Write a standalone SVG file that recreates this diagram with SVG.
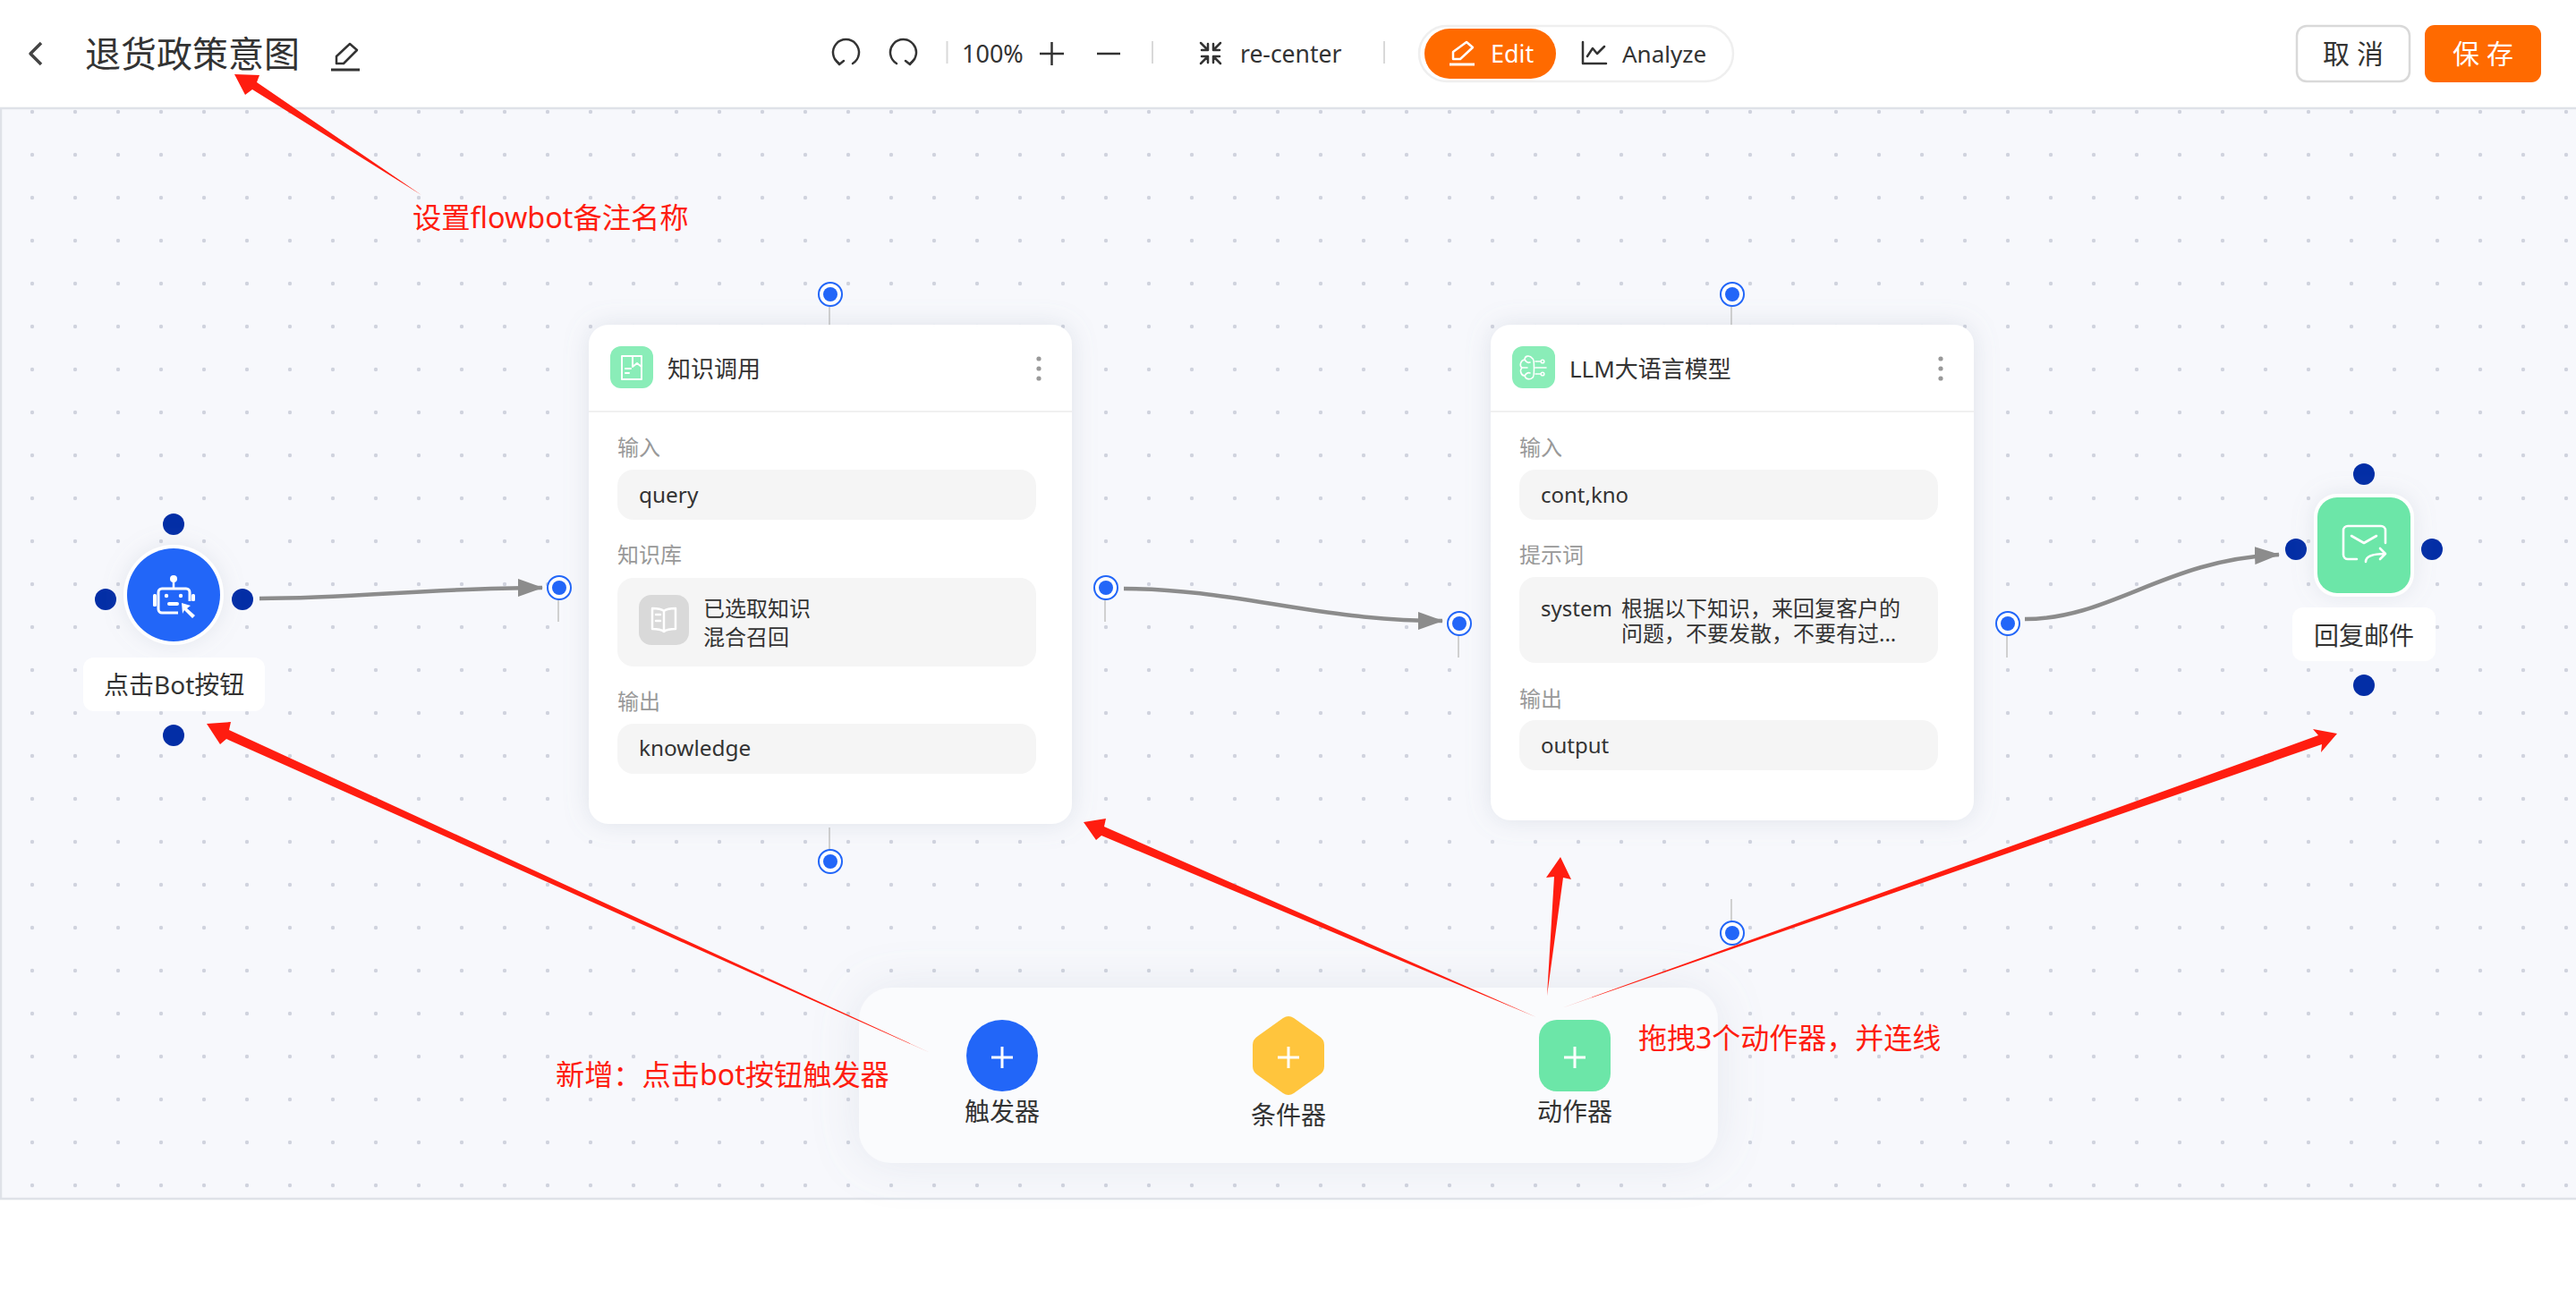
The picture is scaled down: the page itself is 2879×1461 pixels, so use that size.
<svg xmlns="http://www.w3.org/2000/svg" width="2879" height="1461" viewBox="0 0 2879 1461">
<style>
text{font-family:"Noto Sans","Noto Sans CJK SC",sans-serif;fill:#333}
.lab{font-size:24px;fill:#999}
.val{font-size:24px;fill:#333}
.ttl{font-size:26px;fill:#333}
.nodelab{font-size:28px;fill:#333}
.note{font-size:32px;fill:#ff1d10}
.tb{font-size:27px;fill:#333}
.pill{fill:#f5f5f5}
.card{fill:#fff;filter:url(#cardShadow)}
.div{stroke:#f0f0f0;stroke-width:2}
.stem{stroke:#d0d0d0;stroke-width:2;fill:none}
.portO{fill:#fff;stroke:#2266f8;stroke-width:2}
.portI{fill:#2266f8}
.hnd{fill:#032ea6}
.edge{fill:none;stroke:#8c8c8c;stroke-width:4.5}
.wi{fill:none;stroke:#fff;stroke-width:2;stroke-linecap:round;stroke-linejoin:round}
.ti{fill:none;stroke:#333;stroke-width:2.5;stroke-linecap:round;stroke-linejoin:round}
.sep{stroke:#d9d9d9;stroke-width:2}
.mdot{fill:#999}
.red{fill:#ff1d10}
.lbl{fill:#fff}
</style>
<defs>
<pattern id="dots" patternUnits="userSpaceOnUse" x="12" y="101" width="48" height="48"><circle cx="24" cy="24" r="2.2" fill="#d0d3de"/></pattern>
<marker id="arr" markerUnits="userSpaceOnUse" markerWidth="28" markerHeight="20" refX="27" refY="10" orient="auto"><path d="M0 0L28 10L0 20Z" fill="#8c8c8c"/></marker>
<filter id="cardShadow" x="-15%" y="-15%" width="130%" height="130%"><feDropShadow dx="0" dy="0" stdDeviation="14" flood-color="#8a94a8" flood-opacity=".22"/></filter>
<filter id="panelShadow" x="-15%" y="-40%" width="130%" height="180%"><feDropShadow dx="0" dy="0" stdDeviation="26" flood-color="#8a94a8" flood-opacity=".16"/></filter>
<filter id="nodeShadow" x="-40%" y="-40%" width="180%" height="180%"><feDropShadow dx="0" dy="0" stdDeviation="12" flood-color="#8a94a8" flood-opacity=".18"/></filter>
</defs>
<rect width="2879" height="1461" fill="#fff"/>
<g id="canvas">
<rect x="1" y="121" width="2880" height="1219" fill="#f7f8fc" stroke="#dfe2e8" stroke-width="2.5"/>
<rect x="2" y="122" width="2877" height="1217" fill="url(#dots)"/>
</g>
<g id="toolbar">
<path d="M46 48L34 60L46 72" fill="none" stroke="#444" stroke-width="3.5" stroke-linejoin="round"/>
<text x="95" y="75" font-size="40" style="fill:#333">退货政策意图</text>
<path class="ti" d="M376 71V63L391 49L399 56L384 71Z"/><path d="M370 78H402" stroke="#333" stroke-width="3"/>
<g class="ti"><path d="M938 71A14.5 14.5 0 1 1 953 71"/><path d="M933 66L938 72L943 68"/></g>
<g class="ti"><path d="M1002 71A14.5 14.5 0 1 1 1017 71"/><path d="M1022 66L1017 72L1012 68"/></g>
<path class="sep" d="M1058.5 46V71"/>
<text class="tb" x="1075" y="70">100%</text>
<path d="M1162 60H1189M1175.5 47V73" stroke="#333" stroke-width="2.5"/>
<path d="M1226 60H1252" stroke="#333" stroke-width="2.5"/>
<path class="sep" d="M1288 46V71"/>
<g class="ti"><path d="M1342 48L1350 56M1350 49V56H1343"/><path d="M1364 48L1356 56M1356 49V56H1363"/><path d="M1342 71L1350 63M1350 70V63H1343"/><path d="M1364 71L1356 63M1356 70V63H1363"/></g>
<text x="1386" y="70" font-size="26.5" style="fill:#333">re-center</text>
<path class="sep" d="M1547 46V71"/>
<rect x="1586" y="29" width="351" height="62" rx="31" fill="#fff" stroke="#efefef" stroke-width="2.5"/>
<rect x="1592" y="32" width="147" height="56" rx="28" fill="#ff6a00"/>
<path class="wi" d="M1624 66V58L1639 47L1646 53L1632 66Z" style="stroke-width:2.5"/><path d="M1620 72H1648" stroke="#fff" stroke-width="3"/>
<text x="1666" y="70" font-size="27" style="fill:#fff">Edit</text>
<path class="ti" d="M1769 47V71H1795M1774 63L1780 54L1785 60L1793 52"/>
<text x="1813" y="70" font-size="26" style="fill:#333">Analyze</text>
<rect x="2567" y="29" width="126" height="62" rx="11" fill="#fff" stroke="#d9d9d9" stroke-width="2.5"/>
<text x="2630" y="71" font-size="30" text-anchor="middle" style="fill:#333">取 消</text>
<rect x="2710" y="28" width="130" height="64" rx="11" fill="#ff6a00"/>
<text x="2775" y="71" font-size="30" text-anchor="middle" style="fill:#fff">保 存</text>
</g>
<g id="connectors">
<path class="edge" marker-end="url(#arr)" d="M290 669C400 669 480 657 606 657"/>
<path class="edge" marker-end="url(#arr)" d="M1256 658C1380 658 1470 694 1612 694"/>
<path class="edge" marker-end="url(#arr)" d="M2263 692C2360 692 2420 625 2547 620"/>
</g>
<g id="node-trigger">
<circle class="hnd" cx="194" cy="586" r="12"/><circle class="hnd" cx="118" cy="670" r="12"/><circle class="hnd" cx="271" cy="670" r="12"/><circle class="hnd" cx="194" cy="822" r="12"/>
<circle cx="194" cy="665" r="56" fill="#fff" filter="url(#nodeShadow)"/>
<circle cx="194" cy="665" r="52" fill="#2266f8"/>
<circle cx="194" cy="647" r="4" fill="#fff"/><path d="M194 650V658" stroke="#fff" stroke-width="2.5"/>
<path d="M199 685H181a4 4 0 0 1-4-4V662a4 4 0 0 1 4-4H208a4 4 0 0 1 4 4V672" fill="none" stroke="#fff" stroke-width="3"/>
<circle cx="186" cy="666" r="2.2" fill="#fff"/><circle cx="202" cy="666" r="2.2" fill="#fff"/>
<rect x="187" y="673" width="13" height="4" rx="2" fill="#fff"/>
<rect x="171" y="664" width="4" height="14" rx="1.5" fill="#fff"/><rect x="214" y="664" width="4" height="8" rx="1.5" fill="#fff"/>
<path d="M203 674L213 677L209 680L218 688L215 691L206 682L204 686Z" fill="#fff"/>
<rect class="lbl" x="93" y="735" width="203" height="60" rx="12"/>
<text class="nodelab" x="116" y="776">点击Bot按钮</text>
</g>
<g id="node-knowledge">
<path class="stem" d="M927 343V363M927 925V950M624 670V695M1235 670V695"/>
<circle class="portO" cx="928" cy="329" r="13"/><circle class="portI" cx="928" cy="329" r="8"/>
<circle class="portO" cx="928" cy="963" r="13"/><circle class="portI" cx="928" cy="963" r="8"/>
<circle class="portO" cx="625" cy="657" r="13"/><circle class="portI" cx="625" cy="657" r="8"/>
<circle class="portO" cx="1236" cy="657" r="13"/><circle class="portI" cx="1236" cy="657" r="8"/>
<rect class="card" x="658" y="363" width="540" height="558" rx="22"/>
<path class="div" d="M658 460H1198"/>
<rect x="682" y="387" width="48" height="47" rx="12" fill="#8aedb8"/>
<path class="wi" d="M695 398H717V424H695ZM707 398V410L712 406L717 410M699 412H705M699 417H703"/>
<text class="ttl" x="746" y="422">知识调用</text>
<circle class="mdot" cx="1161" cy="401" r="2.6"/><circle class="mdot" cx="1161" cy="412" r="2.6"/><circle class="mdot" cx="1161" cy="423" r="2.6"/>
<text class="lab" x="690" y="509">输入</text>
<rect class="pill" x="690" y="525" width="468" height="56" rx="18"/>
<text class="val" x="714" y="562" style="font-size:24.4px">query</text>
<text class="lab" x="690" y="629">知识库</text>
<rect class="pill" x="690" y="646" width="468" height="99" rx="18"/>
<rect x="714" y="665" width="56" height="56" rx="14" fill="#d9d9d9"/>
<path class="wi" style="stroke-width:2.5" d="M742 683C738 680 733 680 729 680V703C734 703 738 703 742 706C746 703 751 703 755 703V680C751 680 746 680 742 683ZM742 683V706M733 687H738M733 694H738"/>
<text class="val" x="786" y="689">已选取知识</text>
<text class="val" x="786" y="721">混合召回</text>
<text class="lab" x="690" y="793">输出</text>
<rect class="pill" x="690" y="809" width="468" height="56" rx="18"/>
<text class="val" x="714" y="845" style="font-size:24.4px">knowledge</text>
</g>
<g id="node-llm">
<path class="stem" d="M1935 343V363M1935 1005V1030M1630 710V735M2243 710V735"/>
<circle class="portO" cx="1936" cy="329" r="13"/><circle class="portI" cx="1936" cy="329" r="8"/>
<circle class="portO" cx="1936" cy="1043" r="13"/><circle class="portI" cx="1936" cy="1043" r="8"/>
<circle class="portO" cx="1631" cy="697" r="13"/><circle class="portI" cx="1631" cy="697" r="8"/>
<circle class="portO" cx="2244" cy="697" r="13"/><circle class="portI" cx="2244" cy="697" r="8"/>
<rect class="card" x="1666" y="363" width="540" height="554" rx="22"/>
<path class="div" d="M1666 460H2206"/>
<rect x="1690" y="387" width="48" height="47" rx="12" fill="#8aedb8"/>
<path class="wi" style="stroke-width:1.6" d="M1713 401C1709 396 1704 398 1704 402C1699 403 1698 409 1701 411C1698 414 1700 420 1704 420C1705 424 1710 425 1713 422C1715 421 1715 402 1713 401ZM1704 402C1706 405 1708 406 1710 405M1701 411H1707M1704 420C1706 417 1708 416 1710 417M1716 404H1722M1716 411H1728M1716 418H1722"/>
<circle class="wi" style="stroke-width:1.6" cx="1724" cy="404" r="1.8"/><circle class="wi" style="stroke-width:1.6" cx="1724" cy="418" r="1.8"/>
<text class="ttl" x="1754" y="422">LLM大语言模型</text>
<circle class="mdot" cx="2169" cy="401" r="2.6"/><circle class="mdot" cx="2169" cy="412" r="2.6"/><circle class="mdot" cx="2169" cy="423" r="2.6"/>
<text class="lab" x="1698" y="509">输入</text>
<rect class="pill" x="1698" y="525" width="468" height="56" rx="18"/>
<text class="val" x="1722" y="562">cont,kno</text>
<text class="lab" x="1698" y="629">提示词</text>
<rect class="pill" x="1698" y="645" width="468" height="96" rx="18"/>
<text class="val" x="1722" y="689">system</text>
<text class="val" x="1812" y="689">根据以下知识，来回复客户的</text>
<text class="val" x="1812" y="717">问题，不要发散，不要有过...</text>
<text class="lab" x="1698" y="790">输出</text>
<rect class="pill" x="1698" y="805" width="468" height="56" rx="18"/>
<text class="val" x="1722" y="842">output</text>
</g>
<g id="node-reply">
<circle class="hnd" cx="2642" cy="530" r="12"/><circle class="hnd" cx="2566" cy="614" r="12"/><circle class="hnd" cx="2718" cy="614" r="12"/><circle class="hnd" cx="2642" cy="766" r="12"/>
<rect x="2586" y="552" width="112" height="115" rx="26" fill="#fff" filter="url(#nodeShadow)"/>
<rect x="2590" y="556" width="104" height="107" rx="22" fill="#6ce6a8"/>
<path class="wi" style="stroke-width:2.6" d="M2666 607V593A5 5 0 0 0 2661 588H2624A5 5 0 0 0 2619 593V620A5 5 0 0 0 2624 625H2634M2628 599L2642 607L2656 599M2644 628C2644 622 2650 619 2666 619M2660 613L2666 619L2660 625"/>
<rect class="lbl" x="2562" y="679" width="160" height="60" rx="12"/>
<text class="nodelab" x="2642" y="721" text-anchor="middle">回复邮件</text>
</g>
<g id="palette">
<rect x="960" y="1104" width="960" height="196" rx="36" fill="#fafbfd" filter="url(#panelShadow)"/>
<g id="palette-trigger"><circle cx="1120" cy="1180" r="40" fill="#2266f8"/><path d="M1108 1182H1132M1120 1170V1194" stroke="#fff" stroke-width="3"/><text class="nodelab" x="1120" y="1253" text-anchor="middle">触发器</text></g>
<g id="palette-condition"><path d="M1434 1138Q1440 1134 1446 1138L1474 1158Q1480 1162 1480 1168V1192Q1480 1198 1474 1202L1446 1222Q1440 1226 1434 1222L1406 1202Q1400 1198 1400 1192V1168Q1400 1162 1406 1158Z" fill="#ffc53d"/><path d="M1428 1182H1452M1440 1170V1194" stroke="#fff" stroke-width="3"/><text class="nodelab" x="1440" y="1257" text-anchor="middle">条件器</text></g>
<g id="palette-action"><rect x="1720" y="1140" width="80" height="80" rx="20" fill="#6ce6a8"/><path d="M1748 1182H1772M1760 1170V1194" stroke="#fff" stroke-width="3"/><text class="nodelab" x="1760" y="1253" text-anchor="middle">动作器</text></g>
</g>
<g id="annotations">
<path class="red" d="M262 83L290 84L287 92L471 218L282 100L274 106Z"/>
<text class="note" x="461" y="255" style="font-size:32.3px">设置flowbot备注名称</text>
<path class="red" d="M231 809L258 807L256 816L1040 1177L253 826L246 832Z"/>
<text class="note" x="621" y="1213" style="font-size:32.2px">新增：点击bot按钮触发器</text>
<path class="red" d="M1211 919L1236 915L1234 924L1717 1137L1231 934L1225 939Z"/>
<path class="red" d="M1744 958L1756 983L1747 981L1729 1113L1737 980L1728 981Z"/>
<path class="red" d="M2612 820L2594 841L2595 832L1745 1127L2591 822L2585 815Z"/>
<text class="note" x="1831" y="1172">拖拽3个动作器，并连线</text>
</g>
</svg>
